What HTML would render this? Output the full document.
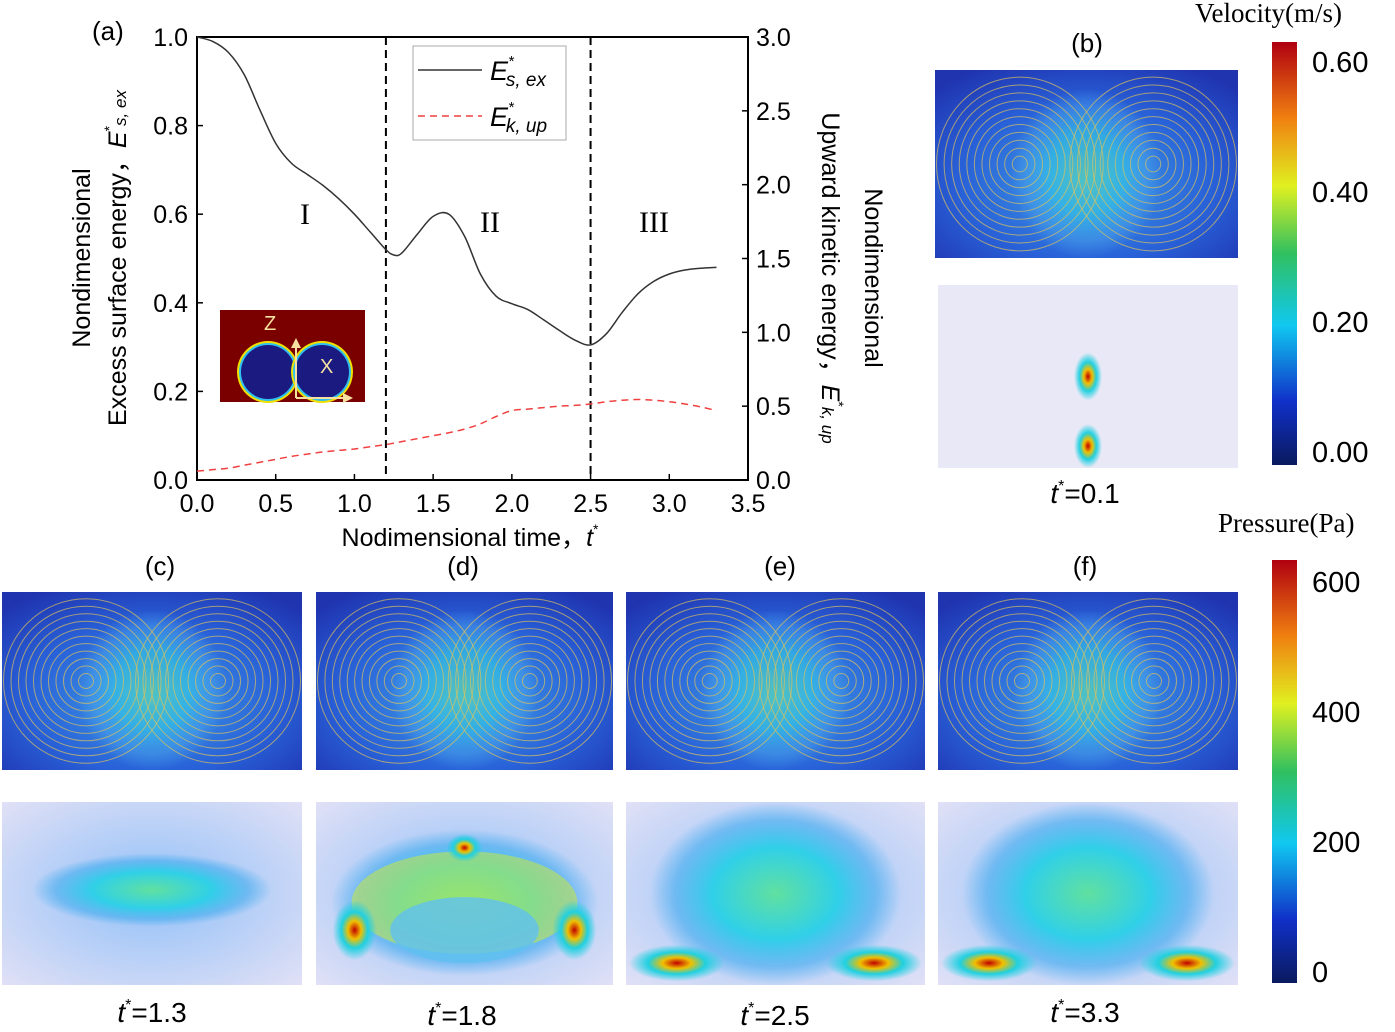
<!DOCTYPE html>
<html><head><meta charset="utf-8">
<style>
html,body{margin:0;padding:0;background:#fff;}
svg{display:block;font-family:"Liberation Sans",Arial,sans-serif;}
</style></head>
<body>
<svg id="fig" width="1395" height="1032" viewBox="0 0 1395 1032" xmlns="http://www.w3.org/2000/svg">
<defs>
  <linearGradient id="jet" x1="0" y1="1" x2="0" y2="0">
    <stop offset="0" stop-color="#0a1a5e"/>
    <stop offset="0.15" stop-color="#1030c8"/>
    <stop offset="0.33" stop-color="#10c8f0"/>
    <stop offset="0.5" stop-color="#30c060"/>
    <stop offset="0.66" stop-color="#e0f020"/>
    <stop offset="0.82" stop-color="#f08010"/>
    <stop offset="1" stop-color="#b00010"/>
  </linearGradient>
  <radialGradient id="hot" cx="0.5" cy="0.5" r="0.5">
    <stop offset="0" stop-color="#c00000"/>
    <stop offset="0.3" stop-color="#f0c000"/>
    <stop offset="0.6" stop-color="#20d0e0"/>
    <stop offset="1" stop-color="#20d0e0" stop-opacity="0"/>
  </radialGradient>
  <radialGradient id="cyanglow" cx="0.5" cy="0.5" r="0.5">
    <stop offset="0" stop-color="#60e0a0"/>
    <stop offset="0.5" stop-color="#30d0e8"/>
    <stop offset="0.8" stop-color="#50b0f0" stop-opacity="0.7"/>
    <stop offset="1" stop-color="#50b0f0" stop-opacity="0"/>
  </radialGradient>
  <radialGradient id="velbg" cx="0.5" cy="0.6" r="0.7">
    <stop offset="0" stop-color="#40a0e8"/>
    <stop offset="0.6" stop-color="#2860d8"/>
    <stop offset="1" stop-color="#2034b0"/>
  </radialGradient>
  <radialGradient id="presbg" cx="0.5" cy="0.5" r="0.7">
    <stop offset="0" stop-color="#90c0f8"/>
    <stop offset="1" stop-color="#e0e0f6"/>
  </radialGradient>
</defs>

<g id="chart"></g>

<g>
  <rect x="220" y="310" width="145" height="92" fill="#7a0000"/>
  <circle cx="268" cy="372" r="31" fill="#f0e000"/>
  <circle cx="268" cy="372" r="29" fill="#30c0f0"/>
  <circle cx="268" cy="372" r="27" fill="#1a1a80"/>
  <circle cx="322" cy="372" r="31" fill="#f0e000"/>
  <circle cx="322" cy="372" r="29" fill="#30c0f0"/>
  <circle cx="322" cy="372" r="27" fill="#1a1a80"/>
  <line x1="296" y1="398" x2="296" y2="345" stroke="#f5e0a0" stroke-width="2"/>
  <polygon points="291,348 301,348 296,338" fill="#f5e0a0"/>
  <line x1="296" y1="398" x2="345" y2="398" stroke="#f5e0a0" stroke-width="2"/>
  <polygon points="343,393 343,403 353,398" fill="#f5e0a0"/>
  <text x="264" y="330" font-size="20" fill="#f5e0a0">Z</text>
  <text x="320" y="373" font-size="20" fill="#f5e0a0">X</text>
</g>

<g id="panels"></g>

<g>
  <text x="1195" y="22" font-size="27" font-family="Liberation Serif,serif">Velocity(m/s)</text>
  <rect x="1272" y="42" width="25" height="423" fill="url(#jet)"/>
  <text x="1312" y="72" font-size="29">0.60</text>
  <text x="1312" y="202" font-size="29">0.40</text>
  <text x="1312" y="332" font-size="29">0.20</text>
  <text x="1312" y="462" font-size="29">0.00</text>
</g>
<g>
  <text x="1218" y="532" font-size="27" font-family="Liberation Serif,serif">Pressure(Pa)</text>
  <rect x="1272" y="560" width="25" height="423" fill="url(#jet)"/>
  <text x="1312" y="592" font-size="29">600</text>
  <text x="1312" y="722" font-size="29">400</text>
  <text x="1312" y="852" font-size="29">200</text>
  <text x="1312" y="982" font-size="29">0</text>
</g>
</svg>

<script>
const tVals = [0,0.1,0.2,0.3,0.4,0.5,0.6,0.7,0.8,0.9,1.0,1.1,1.2,1.25,1.3,1.4,1.5,1.6,1.7,1.8,1.9,2.0,2.1,2.2,2.3,2.4,2.5,2.6,2.7,2.8,2.9,3.0,3.1,3.2,3.3];
const esVals = [1.0,0.99,0.965,0.915,0.835,0.76,0.715,0.69,0.665,0.635,0.6,0.56,0.52,0.508,0.512,0.555,0.595,0.6,0.55,0.465,0.415,0.398,0.385,0.362,0.338,0.316,0.305,0.33,0.378,0.42,0.448,0.465,0.474,0.478,0.48];
const ekVals = [0.06,0.07,0.08,0.1,0.12,0.14,0.16,0.175,0.19,0.2,0.21,0.225,0.24,0.25,0.26,0.28,0.3,0.32,0.345,0.38,0.43,0.47,0.48,0.49,0.5,0.505,0.515,0.53,0.54,0.545,0.54,0.53,0.515,0.495,0.47];
const xTicks = ["0.0","0.5","1.0","1.5","2.0","2.5","3.0","3.5"];
const yLeftTicks = ["0.0","0.2","0.4","0.6","0.8","1.0"];
const yRightTicks = ["0.0","0.5","1.0","1.5","2.0","2.5","3.0"];
const phaseBounds = [1.2, 2.5];

const NS="http://www.w3.org/2000/svg";
const X0=197,X1=748,Y0=480,Y1=37;
const xs=t=>X0+(t/3.5)*(X1-X0);
const yl=v=>Y0-(v/1.0)*(Y0-Y1);
const yr=v=>Y0-(v/3.0)*(Y0-Y1);
function mk(tag,attrs,parent){const e=document.createElementNS(NS,tag);for(const k in attrs)e.setAttribute(k,attrs[k]);parent.appendChild(e);return e;}
function smooth(pts){let d='M'+pts[0][0]+','+pts[0][1];
  for(let i=0;i<pts.length-1;i++){const p0=pts[Math.max(0,i-1)],p1=pts[i],p2=pts[i+1],p3=pts[Math.min(pts.length-1,i+2)];
    const c1=[p1[0]+(p2[0]-p0[0])/6,p1[1]+(p2[1]-p0[1])/6],c2=[p2[0]-(p3[0]-p1[0])/6,p2[1]-(p3[1]-p1[1])/6];
    d+=` C${c1[0]},${c1[1]} ${c2[0]},${c2[1]} ${p2[0]},${p2[1]}`;}
  return d;}
const g=document.getElementById('chart');

const frame=mk('rect',{x:X0,y:Y1,width:X1-X0,height:Y0-Y1,fill:'none',stroke:'#000','stroke-width':2},g);



xTicks.forEach(s=>{const v=parseFloat(s);const x=xs(v);
  mk('line',{x1:x,y1:Y0,x2:x,y2:Y0-6,stroke:'#000','stroke-width':1.5},g);
  const t=mk('text',{x:x,y:512,'font-size':25,'text-anchor':'middle'},g);t.textContent=s;
  
  
});
yLeftTicks.forEach(s=>{const v=parseFloat(s);const y=yl(v);
  mk('line',{x1:X0,y1:y,x2:X0+6,y2:y,stroke:'#000','stroke-width':1.5},g);
  const t=mk('text',{x:188,y:y+9,'font-size':25,'text-anchor':'end'},g);t.textContent=s;
  
  
});
yRightTicks.forEach(s=>{const v=parseFloat(s);const y=yr(v);
  mk('line',{x1:X1,y1:y,x2:X1-6,y2:y,stroke:'#000','stroke-width':1.5},g);
  const t=mk('text',{x:756,y:y+9,'font-size':25},g);t.textContent=s;
  
  
});
phaseBounds.forEach(b=>{const l=mk('line',{x1:xs(b),y1:Y1,x2:xs(b),y2:Y0,stroke:'#000','stroke-width':2,'stroke-dasharray':'8,5'},g);
  
  
});
const es=mk('path',{d:smooth(tVals.map((t,i)=>[xs(t),yl(esVals[i])])),fill:'none',stroke:'#333','stroke-width':1.5},g);


const ek=mk('path',{d:smooth(tVals.map((t,i)=>[xs(t),yr(ekVals[i])])),fill:'none',stroke:'#f04040','stroke-width':1.5,'stroke-dasharray':'7,5'},g);



g.insertAdjacentHTML('beforeend',`
<text x="92" y="40" font-size="26">(a)</text>
<text x="305" y="224" font-size="30" font-family="Liberation Serif,serif" text-anchor="middle">I</text>
<text x="490" y="232" font-size="30" font-family="Liberation Serif,serif" text-anchor="middle">II</text>
<text x="654" y="232" font-size="30" font-family="Liberation Serif,serif" text-anchor="middle">III</text>
<g>
 <rect x="413" y="46" width="153" height="94" fill="#fff" stroke="#aaa"/>
 <line x1="418" y1="70" x2="482" y2="70" stroke="#333" stroke-width="1.5"/>
 <text x="490" y="80" font-size="27" font-style="italic">E<tspan font-size="15" dy="-14">*</tspan><tspan font-size="19" dx="-8" dy="20">s, ex</tspan></text>
 <line x1="418" y1="116" x2="482" y2="116" stroke="#f04040" stroke-width="1.5" stroke-dasharray="7,5"/>
 <text x="490" y="126" font-size="27" font-style="italic">E<tspan font-size="15" dy="-14">*</tspan><tspan font-size="19" dx="-8" dy="20">k, up</tspan></text>
</g>
<text x="470" y="546" font-size="25" text-anchor="middle">Nodimensional time，<tspan font-style="italic">t</tspan><tspan font-size="14" dy="-12">*</tspan></text>
<text transform="translate(90,258) rotate(-90)" font-size="25" text-anchor="middle">Nondimensional</text>
<text transform="translate(126,258) rotate(-90)" font-size="25" text-anchor="middle">Excess surface energy，<tspan font-style="italic">E</tspan><tspan font-size="14" dy="-12">*</tspan><tspan font-size="17" font-style="italic" dy="12">s, ex</tspan></text>
<text transform="translate(865,278) rotate(90)" font-size="25" text-anchor="middle">Nondimensional</text>
<text transform="translate(822,278) rotate(90)" font-size="25" text-anchor="middle">Upward kinetic energy，<tspan font-style="italic">E</tspan><tspan font-size="14" dy="-12">*</tspan><tspan font-size="17" font-style="italic" dy="12">k, up</tspan></text>
`);

const P=document.getElementById('panels');
const vel=[[935,70,303,188,'b'],[2,592,300,178,'c'],[316,592,297,178,'d'],[626,592,299,178,'e'],[938,592,300,178,'f']];
const pres=[[938,285,300,183,'b'],[2,802,300,183,'c'],[316,802,297,183,'d'],[626,802,299,183,'e'],[938,802,300,183,'f']];
const labels={b:[1087,52,'t*=0.1',1085,503],c:[160,575,'t*=1.3',152,1022],d:[463,575,'t*=1.8',462,1025],e:[780,575,'t*=2.5',775,1025],f:[1085,575,'t*=3.3',1085,1022]};
let html='';
vel.forEach(([x,y,w,h,k])=>{
  html+=`<g><rect x="${x}" y="${y}" width="${w}" height="${h}" fill="url(#velbg)"/>`;
  html+=`<ellipse cx="${x+w/2}" cy="${y+h*0.55}" rx="${w*0.25}" ry="${h*0.45}" fill="url(#cyanglow)" opacity="0.55"/>`;
  for(let i=1;i<12;i++){html+=`<ellipse cx="${x+w*0.28}" cy="${y+h*0.5}" rx="${w*0.025*i}" ry="${h*0.042*i}" fill="none" stroke="#d8c060" stroke-opacity="0.7" stroke-width="1"/><ellipse cx="${x+w*0.72}" cy="${y+h*0.5}" rx="${w*0.025*i}" ry="${h*0.042*i}" fill="none" stroke="#d8c060" stroke-opacity="0.7" stroke-width="1"/>`;}
  html+=`</g>`;
});
pres.forEach(([x,y,w,h,k])=>{
  html+=`<g><rect x="${x}" y="${y}" width="${w}" height="${h}" fill="url(#presbg)"/>`;
  if(k==='b'){html+=`<rect x="${x}" y="${y}" width="${w}" height="${h}" fill="#e8e8f6"/><ellipse cx="${x+w/2}" cy="${y+h*0.5}" rx="14" ry="24" fill="url(#hot)"/><ellipse cx="${x+w/2}" cy="${y+h*0.88}" rx="14" ry="22" fill="url(#hot)"/>`;}
  else if(k==='c'){html+=`<ellipse cx="${x+w/2}" cy="${y+h*0.48}" rx="${w*0.4}" ry="${h*0.2}" fill="url(#cyanglow)"/>`;}
  else if(k==='d'){html+=`<ellipse cx="${x+w/2}" cy="${y+h*0.55}" rx="${w*0.45}" ry="${h*0.4}" fill="url(#cyanglow)"/><ellipse cx="${x+w/2}" cy="${y+h*0.55}" rx="${w*0.38}" ry="${h*0.28}" fill="#c8e840" opacity="0.55"/><ellipse cx="${x+w*0.5}" cy="${y+h*0.7}" rx="${w*0.25}" ry="${h*0.18}" fill="#60c0f0" opacity="0.8"/><ellipse cx="${x+w*0.5}" cy="${y+h*0.25}" rx="18" ry="14" fill="url(#hot)"/><ellipse cx="${x+w*0.13}" cy="${y+h*0.7}" rx="22" ry="30" fill="url(#hot)"/><ellipse cx="${x+w*0.87}" cy="${y+h*0.7}" rx="22" ry="30" fill="url(#hot)"/>`;}
  else {html+=`<ellipse cx="${x+w/2}" cy="${y+h*0.5}" rx="${w*0.42}" ry="${h*0.5}" fill="url(#cyanglow)"/><ellipse cx="${x+w*0.17}" cy="${y+h*0.88}" rx="${w*0.16}" ry="${h*0.1}" fill="url(#hot)"/><ellipse cx="${x+w*0.83}" cy="${y+h*0.88}" rx="${w*0.16}" ry="${h*0.1}" fill="url(#hot)"/>`;}
  html+=`</g>`;
});
for(const k in labels){const [lx,ly,lt,tx,ty]=labels[k];
  html+=`<text x="${lx}" y="${ly}" font-size="26" text-anchor="middle">(${k})</text>`;
  html+=`<text x="${tx}" y="${ty}" font-size="28" text-anchor="middle"><tspan font-style="italic">t</tspan><tspan font-size="16" dy="-12">*</tspan><tspan dy="12">=${lt.slice(3)}</tspan></text>`;
}
P.innerHTML=html;
</script>
</body></html>
